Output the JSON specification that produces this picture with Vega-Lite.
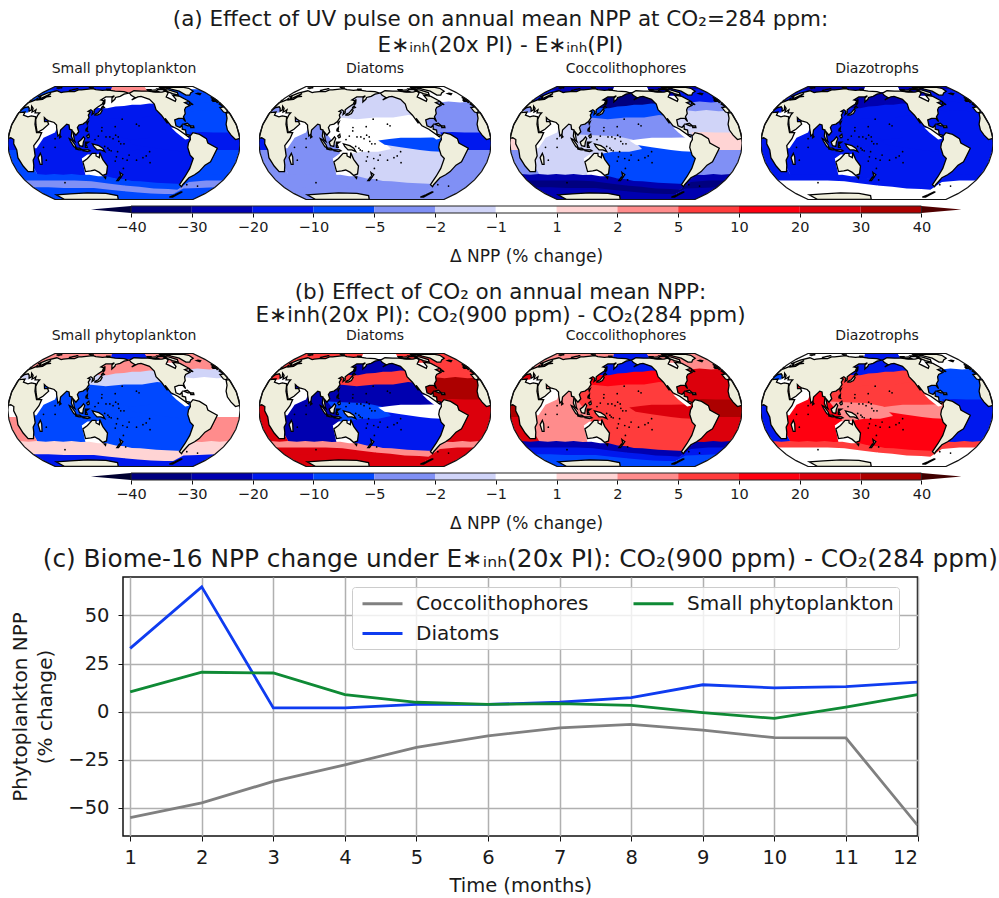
{"$schema":"https://vega.github.io/schema/vega-lite/v6.json","background":"white","padding":{"left":8,"top":8,"right":0,"bottom":0},"spacing":14,
"config":{"font":"DejaVu Sans","view":{"stroke":null},"title":{"font":"DejaVu Sans","color":"#1a1a1a","fontWeight":"normal"}},
"datasets":{
"cbar":[{"i0":0,"i1":1,"v":-35},{"i0":1,"i1":2,"v":-25},{"i0":2,"i1":3,"v":-15},{"i0":3,"i1":4,"v":-7},{"i0":4,"i1":5,"v":-3.5},{"i0":5,"i1":6,"v":-1.5},{"i0":6,"i1":7,"v":0},{"i0":7,"i1":8,"v":1.5},{"i0":8,"i1":9,"v":3},{"i0":9,"i1":10,"v":7},{"i0":10,"i1":11,"v":15},{"i0":11,"i1":12,"v":25},{"i0":12,"i1":13,"v":35}],
"tipL":[{"x":-0.66,"lo":0.5,"hi":0.5,"v":-50},{"x":0,"lo":0,"hi":1,"v":-50}],
"tipR":[{"x":13,"lo":0,"hi":1,"v":50},{"x":13.66,"lo":0.5,"hi":0.5,"v":50}],
"frame":[{"i0":0,"i1":13}],
"regions":[
{"id":"ARC_W","a1":-15,"a2":0,"a3":-25,"a4":-25,"b1":3,"b2":7,"b3":3,"b4":0,"geo":{"type":"Polygon","coordinates":[[[0,89.9],[50,89.9],[100,89.9],[150,89.9],[150,61],[120,61],[90,61],[60,61],[30,61],[0,61],[0,89.9]]]}},
{"id":"ARC_C","a1":3,"a2":0,"a3":0,"a4":0,"b1":-15,"b2":0,"b3":-15,"b4":-15,"geo":{"type":"Polygon","coordinates":[[[149,89.9],[190,89.9],[235,89.9],[235,61],[200,61],[170,61],[149,61],[149,89.9]]]}},
{"id":"ARC_E","a1":0,"a2":0,"a3":-25,"a4":-25,"b1":3,"b2":7,"b3":3,"b4":0,"geo":{"type":"Polygon","coordinates":[[[234,89.9],[275,89.9],[320,89.9],[360,89.9],[360,61],[330,61],[300,61],[265,61],[234,61],[234,89.9]]]}},
{"id":"NP_SUB","a1":0,"a2":-1.5,"a3":-35,"a4":-25,"b1":3,"b2":-25,"b3":-15,"b4":-15,"geo":{"type":"Polygon","coordinates":[[[115,68],[150,68],[180,68],[210,68],[245,68],[245,46],[210,45],[180,43],[150,40],[115,38],[115,68]]]}},
{"id":"NP_MID","a1":-15,"a2":-1.5,"a3":-7,"a4":-15,"b1":-1.5,"b2":7,"b3":15,"b4":7,"geo":{"type":"Polygon","coordinates":[[[115,40],[150,42],[180,45],[210,47],[245,48],[245,28],[210,28],[180,28],[150,26],[115,25],[115,40]]]}},
{"id":"NP_ST","a1":-15,"a2":0,"a3":-3.5,"a4":-15,"b1":-7,"b2":-25,"b3":7,"b4":7,"geo":{"type":"Polygon","coordinates":[[[100,27],[150,28],[180,30],[210,30],[262,31],[285,14],[285,2],[240,2],[195,2],[165,2],[125,2],[100,2],[100,27]]]}},
{"id":"SP_ST","a1":-15,"a2":-1.5,"a3":-7,"a4":-15,"b1":-7,"b2":-15,"b3":7,"b4":15,"geo":{"type":"Polygon","coordinates":[[[140,3],[170,3],[200,3],[240,3],[290,3],[295,-30],[295,-54],[250,-54],[200,-50],[170,-44],[145,-42],[140,3]]]}},
{"id":"EQ_W","a1":-15,"a2":0,"a3":-1.5,"a4":-15,"b1":-7,"b2":-7,"b3":7,"b4":3,"geo":{"type":"Polygon","coordinates":[[[100,10],[130,9],[160,8],[190,4],[205,-7],[185,-10],[160,-10],[130,-14],[100,-10],[100,10]]]}},
{"id":"EQ_E","a1":-15,"a2":-7,"a3":0,"a4":-15,"b1":-7,"b2":0,"b3":25,"b4":3,"geo":{"type":"Polygon","coordinates":[[[185,3],[220,6],[250,6],[285,6],[285,-10],[250,-8],[220,-5],[195,-2],[185,3]]]}},
{"id":"IND","a1":-15,"a2":-3.5,"a3":-1.5,"a4":-15,"b1":-7,"b2":-25,"b3":3,"b4":15,"geo":{"type":"Polygon","coordinates":[[[30,30],[60,30],[100,28],[105,10],[125,-8],[125,-12],[113,-18],[113,-40],[80,-40],[50,-40],[30,-40],[30,30]]]}},
{"id":"ARAB","a1":0,"a2":0,"a3":0,"a4":0,"b1":0,"b2":0,"b3":0,"b4":0,"geo":{"type":"Polygon","coordinates":[[[42,14],[55,26],[75,25],[72,12],[55,6],[44,-6],[38,-6],[42,14]]]}},
{"id":"CAM","a1":0,"a2":0,"a3":0,"a4":0,"b1":0,"b2":0,"b3":0,"b4":0,"geo":{"type":"Polygon","coordinates":[[[255,18],[262,17],[278,9],[281,5],[275,4],[262,12],[255,18]]]}},
{"id":"NA_SUB","a1":-7,"a2":0,"a3":-15,"a4":-15,"b1":3,"b2":7,"b3":3,"b4":0,"geo":{"type":"Polygon","coordinates":[[[285,75],[320,75],[360,75],[385,70],[385,48],[340,48],[300,48],[285,48],[285,75]]]}},
{"id":"NA_MID","a1":-7,"a2":-3.5,"a3":-3.5,"a4":-15,"b1":-1.5,"b2":7,"b3":25,"b4":-7,"geo":{"type":"Polygon","coordinates":[[[270,50],[300,50],[340,50],[375,50],[375,36],[340,36],[300,36],[270,36],[270,50]]]}},
{"id":"NA_ST","a1":-7,"a2":-3.5,"a3":-1.5,"a4":-15,"b1":0,"b2":35,"b3":25,"b4":-7,"geo":{"type":"Polygon","coordinates":[[[262,38],[300,38],[340,38],[370,38],[370,10],[340,10],[300,8],[278,10],[262,18],[262,38]]]}},
{"id":"AT_EQ","a1":-15,"a2":-15,"a3":1.5,"a4":-15,"b1":0,"b2":25,"b3":35,"b4":-15,"geo":{"type":"Polygon","coordinates":[[[282,12],[320,12],[350,12],[372,12],[372,-10],[350,-10],[320,-10],[300,-10],[282,12]]]}},
{"id":"SA","a1":-7,"a2":-3.5,"a3":-3.5,"a4":-15,"b1":3,"b2":25,"b3":25,"b4":-15,"geo":{"type":"Polygon","coordinates":[[[295,-8],[320,-8],[350,-8],[375,-8],[390,-25],[390,-42],[350,-42],[320,-42],[298,-42],[295,-8]]]}},
{"id":"S1_W","a1":-7,"a2":-3.5,"a3":-25,"a4":-15,"b1":1.5,"b2":3,"b3":-25,"b4":7,"geo":{"type":"Polygon","coordinates":[[[0,-37],[30,-37],[60,-37],[90,-37],[120,-38],[150,-40],[181,-44],[181,-55],[150,-52],[120,-49],[90,-48],[60,-48],[30,-48],[0,-48],[0,-37]]]}},
{"id":"S1_E","a1":-7,"a2":-3.5,"a3":-25,"a4":-15,"b1":1.5,"b2":3,"b3":-25,"b4":7,"geo":{"type":"Polygon","coordinates":[[[180,-44],[210,-47],[240,-49],[270,-50],[290,-51],[300,-38],[330,-37],[360,-37],[360,-48],[330,-48],[300,-50],[290,-62],[270,-61],[240,-60],[210,-57],[180,-55],[180,-44]]]}},
{"id":"S2_W","a1":-3.5,"a2":-3.5,"a3":-35,"a4":0,"b1":1.5,"b2":25,"b3":-15,"b4":0,"geo":{"type":"Polygon","coordinates":[[[0,-46],[30,-46],[60,-46],[90,-46],[120,-47],[150,-50],[181,-53],[181,-65],[150,-62],[120,-59],[90,-59],[60,-59],[30,-58],[0,-58],[0,-46]]]}},
{"id":"S2_E","a1":-3.5,"a2":-3.5,"a3":-35,"a4":0,"b1":1.5,"b2":25,"b3":-15,"b4":0,"geo":{"type":"Polygon","coordinates":[[[180,-53],[210,-55],[240,-58],[270,-59],[290,-60],[300,-48],[330,-46],[360,-46],[360,-58],[330,-59],[300,-60],[290,-70],[270,-70],[240,-69],[210,-67],[180,-65],[180,-53]]]}},
{"id":"S3_W","a1":-7,"a2":-3.5,"a3":-25,"a4":0,"b1":-15,"b2":25,"b3":-7,"b4":0,"geo":{"type":"Polygon","coordinates":[[[0,-56],[30,-56],[60,-57],[90,-57],[120,-57],[150,-60],[181,-63],[181,-89.9],[120,-89.9],[60,-89.9],[0,-89.9],[0,-56]]]}},
{"id":"S3_E","a1":-7,"a2":-3.5,"a3":-25,"a4":0,"b1":-15,"b2":25,"b3":-7,"b4":0,"geo":{"type":"Polygon","coordinates":[[[180,-63],[210,-65],[240,-67],[270,-68],[290,-68],[300,-58],[330,-57],[360,-56],[360,-89.9],[300,-89.9],[240,-89.9],[180,-89.9],[180,-63]]]}}
],
"land":[
{"n":"Eurasia","geo":{"type":"Polygon","coordinates":[[[25,71],[41,67],[44,68],[54,69],[68,69],[73,73],[80,73],[104,77],[113,74],[130,72],[140,73],[160,70],[180,69],[190,66],[180,64],[172,60],[163,58],[162,55],[157,51],[156,57],[160,61],[155,59],[143,59],[135,54],[141,53],[140,48],[132,43],[128,40],[129,36],[126,34],[126,38],[122,40],[118,38],[122,37],[120,33],[122,30],[119,25],[114,22],[108,21],[106,18],[109,13],[105,9],[100,13],[103,3],[104,1.5],[101,3],[98,8],[98,15],[94,16],[92,21],[88,22],[80,15],[80,10],[77,8],[73,18],[72,21],[67,24],[62,25],[57,26],[52,28],[48,30],[51,25],[56,25],[59,22],[52,16],[44,12],[39,21],[35,28],[35,33],[36,36],[28,36],[26,40],[24,38],[22,37],[19,42],[13,45],[18,40],[16,38],[12,42],[8,44],[3,43],[0,39],[-5,36],[-9,37],[-9,43],[-1,44],[-4,48],[3,51],[8,54],[8,57],[11,54],[20,55],[22,59],[30,60],[22,60],[22,65],[18,60],[13,55],[10,59],[5,59],[12,66],[25,71]]]}},
{"n":"Africa","geo":{"type":"Polygon","coordinates":[[[-6,35.5],[10,37],[11,33],[20,31],[25,32],[33,31],[37,22],[43,12],[51,12],[48,5],[40,-3],[40,-15],[35,-20],[33,-26],[27,-34],[18,-34],[15,-27],[12,-17],[13,-8],[9,-1],[9,4],[4,6],[-7,4],[-13,9],[-17,15],[-16,22],[-10,29],[-6,35.5]]]}},
{"n":"North America","geo":{"type":"Polygon","coordinates":[[[-168,66],[-157,71],[-140,70],[-125,70],[-110,68],[-95,68],[-85,70],[-82,67],[-94,59],[-82,52],[-78,55],[-78,62],[-65,60],[-56,52],[-66,50],[-60,46],[-70,43],[-74,40],[-76,35],[-81,31],[-80,25],[-83,29],[-90,29],[-97,27],[-97,20],[-91,18],[-87,21],[-88,16],[-83,15],[-83,10],[-78,9],[-80,7],[-85,10],[-95,16],[-105,20],[-112,29],[-110,23],[-117,33],[-124,40],[-124,48],[-130,55],[-145,60],[-152,59],[-165,54],[-158,58],[-165,62],[-168,66]]]}},
{"n":"South America","geo":{"type":"Polygon","coordinates":[[[-77,8],[-72,12],[-62,10],[-52,5],[-50,0],[-35,-6],[-39,-15],[-41,-22],[-48,-26],[-53,-34],[-58,-38],[-65,-42],[-68,-52],[-67,-55],[-74,-52],[-73,-40],[-71,-30],[-70,-18],[-76,-14],[-81,-5],[-80,0],[-77,4],[-77,8]]]}},
{"n":"Australia","geo":{"type":"Polygon","coordinates":[[[114,-22],[122,-18],[130,-12],[136,-12],[136,-15],[141,-17],[142,-11],[146,-19],[153,-27],[150,-37],[143,-39],[138,-35],[131,-32],[124,-33],[115,-34],[114,-22]]]}},
{"n":"Greenland","geo":{"type":"Polygon","coordinates":[[[-70,77],[-60,82],[-30,83],[-20,78],[-22,70],[-42,62],[-50,62],[-54,70],[-70,77]]]}},
{"n":"East Antarctica","geo":{"type":"Polygon","coordinates":[[[25,-70],[60,-68],[100,-66],[140,-67],[165,-72],[165,-89],[100,-89],[25,-89],[25,-70]]]}},
{"n":"Antarctic Peninsula","geo":{"type":"Polygon","coordinates":[[[296,-70],[302,-64],[305,-64],[301,-70],[298,-76],[290,-76],[296,-70]]]}},
{"n":"Madagascar","geo":{"type":"Polygon","coordinates":[[[44,-17],[49,-12],[50,-16],[47,-25],[44,-25],[44,-17]]]}},
{"n":"Honshu","geo":{"type":"Polygon","coordinates":[[[131,34],[136,36],[140,41],[142,39],[140,35],[135,33],[131,33],[131,34]]]}},
{"n":"Hokkaido","geo":{"type":"Polygon","coordinates":[[[140,43],[142,45],[145,43],[141,42],[140,43]]]}},
{"n":"Sakhalin","geo":{"type":"Polygon","coordinates":[[[142,54],[143,54],[144,49],[142,46],[142,54]]]}},
{"n":"Taiwan","geo":{"type":"Polygon","coordinates":[[[120,24],[122,25],[121,22],[120,24]]]}},
{"n":"Luzon","geo":{"type":"Polygon","coordinates":[[[120,16],[122,18],[122,14],[124,13],[120,14],[120,16]]]}},
{"n":"Mindanao","geo":{"type":"Polygon","coordinates":[[[122,8],[125,10],[126,7],[124,6],[122,8]]]}},
{"n":"Borneo","geo":{"type":"Polygon","coordinates":[[[109,1],[114,4],[117,7],[119,5],[117,1],[116,-4],[111,-3],[109,1]]]}},
{"n":"Sumatra","geo":{"type":"Polygon","coordinates":[[[95,5],[98,4],[104,-2],[106,-6],[102,-4],[97,2],[95,5]]]}},
{"n":"Java","geo":{"type":"Polygon","coordinates":[[[105,-6],[111,-6],[115,-8],[110,-8],[105,-7],[105,-6]]]}},
{"n":"Sulawesi","geo":{"type":"Polygon","coordinates":[[[120,1],[125,1],[121,-1],[123,-5],[120,-5],[120,1]]]}},
{"n":"New Guinea","geo":{"type":"Polygon","coordinates":[[[131,-1],[141,-3],[147,-6],[150,-10],[144,-8],[138,-8],[133,-4],[131,-1]]]}},
{"n":"Timor","geo":{"type":"Polygon","coordinates":[[[116,-8],[125,-8],[127,-9],[123,-10],[116,-9],[116,-8]]]}},
{"n":"Tasmania","geo":{"type":"Polygon","coordinates":[[[145,-41],[148,-41],[147,-43],[145,-41]]]}},
{"n":"NZ North","geo":{"type":"Polygon","coordinates":[[[173,-35],[178,-38],[175,-41],[174,-39],[173,-35]]]}},
{"n":"NZ South","geo":{"type":"Polygon","coordinates":[[[172,-41],[174,-42],[170,-46],[167,-46],[172,-41]]]}},
{"n":"Sri Lanka","geo":{"type":"Polygon","coordinates":[[[80,9],[82,7],[80,6],[80,9]]]}},
{"n":"Great Britain","geo":{"type":"Polygon","coordinates":[[[-5,58],[-2,57],[1,52],[-5,50],[-3,54],[-5,58]]]}},
{"n":"Ireland","geo":{"type":"Polygon","coordinates":[[[-9,54],[-6,55],[-6,52],[-10,52],[-9,54]]]}},
{"n":"Iceland","geo":{"type":"Polygon","coordinates":[[[-23,65],[-18,66],[-14,65],[-19,63],[-23,65]]]}},
{"n":"Cuba","geo":{"type":"Polygon","coordinates":[[[-84,22],[-78,23],[-74,20],[-78,20],[-84,22]]]}},
{"n":"Hispaniola","geo":{"type":"Polygon","coordinates":[[[-74,20],[-69,20],[-69,18],[-74,18],[-74,20]]]}},
{"n":"Newfoundland","geo":{"type":"Polygon","coordinates":[[[-59,48],[-56,51],[-53,47],[-59,48]]]}},
{"n":"Baffin","geo":{"type":"Polygon","coordinates":[[[-88,73],[-75,73],[-62,67],[-66,62],[-75,65],[-88,73]]]}},
{"n":"Victoria","geo":{"type":"Polygon","coordinates":[[[-118,72],[-105,73],[-102,69],[-115,69],[-118,72]]]}},
{"n":"Banks","geo":{"type":"Polygon","coordinates":[[[-125,74],[-116,74],[-120,71],[-125,72],[-125,74]]]}},
{"n":"Ellesmere","geo":{"type":"Polygon","coordinates":[[[-90,80],[-70,83],[-62,82],[-78,76],[-90,76],[-90,80]]]}},
{"n":"Devon","geo":{"type":"Polygon","coordinates":[[[-100,76],[-82,76],[-80,74],[-100,74],[-100,76]]]}},
{"n":"Svalbard","geo":{"type":"Polygon","coordinates":[[[12,79],[25,80],[20,77],[12,79]]]}},
{"n":"Novaya Zemlya","geo":{"type":"Polygon","coordinates":[[[53,72],[68,77],[58,74],[55,71],[53,72]]]}},
{"n":"Severnaya","geo":{"type":"Polygon","coordinates":[[[95,80],[105,79],[98,78],[95,80]]]}},
{"n":"New Siberian","geo":{"type":"Polygon","coordinates":[[[137,75],[148,75],[142,73],[137,75]]]}}
],
"isles":[{"lon":158,"lat":7},{"lon":163,"lat":5},{"lon":171,"lat":7},{"lon":172,"lat":2},{"lon":167,"lat":9},{"lon":145,"lat":14},{"lon":145,"lat":18},{"lon":166,"lat":19},{"lon":177,"lat":28},{"lon":188,"lat":-14},{"lon":185,"lat":-20},{"lon":178,"lat":-18},{"lon":166,"lat":-21},{"lon":168,"lat":-16},{"lon":160,"lat":-9},{"lon":157,"lat":-8},{"lon":210,"lat":-17},{"lon":215,"lat":-15},{"lon":220,"lat":-10},{"lon":222,"lat":-23},{"lon":200,"lat":-20},{"lon":204,"lat":20},{"lon":200,"lat":22},{"lon":175,"lat":-1},{"lon":180,"lat":-1},{"lon":170,"lat":-10},{"lon":73,"lat":-5},{"lon":56,"lat":-20},{"lon":55,"lat":-5},{"lon":73,"lat":5},{"lon":152,"lat":7},{"lon":140,"lat":8},{"lon":135,"lat":4},{"lon":150,"lat":-4},{"lon":155,"lat":-6},{"lon":179,"lat":-30},{"lon":183,"lat":-45},{"lon":110,"lat":-7},{"lon":70,"lat":-49},{"lon":-60,"lat":-52},{"lon":-37,"lat":-54}],
"npp":[
{"m":1,"s":"Coccolithophores","v":-55},{"m":2,"s":"Coccolithophores","v":-47.4},{"m":3,"s":"Coccolithophores","v":-36.2},{"m":4,"s":"Coccolithophores","v":-27.6},{"m":5,"s":"Coccolithophores","v":-18.5},{"m":6,"s":"Coccolithophores","v":-12.6},{"m":7,"s":"Coccolithophores","v":-8.4},{"m":8,"s":"Coccolithophores","v":-6.6},{"m":9,"s":"Coccolithophores","v":-9.6},{"m":10,"s":"Coccolithophores","v":-13.5},{"m":11,"s":"Coccolithophores","v":-13.6},{"m":12,"s":"Coccolithophores","v":-59},
{"m":1,"s":"Diatoms","v":32.9},{"m":2,"s":"Diatoms","v":64.9},{"m":3,"s":"Diatoms","v":2},{"m":4,"s":"Diatoms","v":2},{"m":5,"s":"Diatoms","v":3.8},{"m":6,"s":"Diatoms","v":3.8},{"m":7,"s":"Diatoms","v":4.9},{"m":8,"s":"Diatoms","v":7.3},{"m":9,"s":"Diatoms","v":14},{"m":10,"s":"Diatoms","v":12.4},{"m":11,"s":"Diatoms","v":13},{"m":12,"s":"Diatoms","v":15.4},
{"m":1,"s":"Small phytoplankton","v":10.3},{"m":2,"s":"Small phytoplankton","v":20.5},{"m":3,"s":"Small phytoplankton","v":20.1},{"m":4,"s":"Small phytoplankton","v":8.9},{"m":5,"s":"Small phytoplankton","v":4.9},{"m":6,"s":"Small phytoplankton","v":3.8},{"m":7,"s":"Small phytoplankton","v":4.2},{"m":8,"s":"Small phytoplankton","v":3.3},{"m":9,"s":"Small phytoplankton","v":-0.5},{"m":10,"s":"Small phytoplankton","v":-3.5},{"m":11,"s":"Small phytoplankton","v":2.4},{"m":12,"s":"Small phytoplankton","v":8.9}]
},
"vconcat":[
{"spacing":16,"vconcat":[
{"spacing":5,"title":{"text":["(a)  Effect of UV pulse on annual mean NPP at CO₂=284 ppm:","E∗ᵢₙₕ(20x PI) -  E∗ᵢₙₕ(PI)"],"fontSize":21.5,"offset":6,"anchor":"middle","lineHeight":26},"vconcat":[
{"bounds":"flush","spacing":19,"hconcat":[
{"width":232,"height":114,"title":{"text":"Small phytoplankton","fontSize":14,"offset":10},"projection":{"type":"equalEarth","rotate":[180,0],"scale":42.9,"translate":[116,57]},"layer":[{"data":{"sphere":true},"mark":{"type":"geoshape","fill":"white","stroke":null}},{"data":{"name":"regions"},"mark":{"type":"geoshape","stroke":null},"encoding":{"shape":{"field":"geo","type":"geojson"},"color":{"field":"a1","type":"quantitative","legend":null,"scale":{"type":"threshold","domain":[-40,-30,-20,-10,-5,-2,-1,1,2,5,10,20,30,40],"range":["#000050","#00007f","#0000b0","#0018ee","#0048ff","#8090f5","#d0d4f8","#ffffff","#ffd4d4","#ff8c8c","#ff3c3c","#ff0010","#dc000c","#ac0000","#600000"]}}}},{"data":{"name":"land"},"mark":{"type":"geoshape","fill":"#efeedc","stroke":"black","strokeWidth":1.3},"encoding":{"shape":{"field":"geo","type":"geojson"}}},{"data":{"name":"isles"},"mark":{"type":"circle","size":3,"color":"black","opacity":1},"encoding":{"longitude":{"field":"lon","type":"quantitative"},"latitude":{"field":"lat","type":"quantitative"}}},{"data":{"sphere":true},"mark":{"type":"geoshape","fill":null,"stroke":"#111","strokeWidth":1.2}}]},
{"width":232,"height":114,"title":{"text":"Diatoms","fontSize":14,"offset":10},"projection":{"type":"equalEarth","rotate":[180,0],"scale":42.9,"translate":[116,57]},"layer":[{"data":{"sphere":true},"mark":{"type":"geoshape","fill":"white","stroke":null}},{"data":{"name":"regions"},"mark":{"type":"geoshape","stroke":null},"encoding":{"shape":{"field":"geo","type":"geojson"},"color":{"field":"a2","type":"quantitative","legend":null,"scale":{"type":"threshold","domain":[-40,-30,-20,-10,-5,-2,-1,1,2,5,10,20,30,40],"range":["#000050","#00007f","#0000b0","#0018ee","#0048ff","#8090f5","#d0d4f8","#ffffff","#ffd4d4","#ff8c8c","#ff3c3c","#ff0010","#dc000c","#ac0000","#600000"]}}}},{"data":{"name":"land"},"mark":{"type":"geoshape","fill":"#efeedc","stroke":"black","strokeWidth":1.3},"encoding":{"shape":{"field":"geo","type":"geojson"}}},{"data":{"name":"isles"},"mark":{"type":"circle","size":3,"color":"black","opacity":1},"encoding":{"longitude":{"field":"lon","type":"quantitative"},"latitude":{"field":"lat","type":"quantitative"}}},{"data":{"sphere":true},"mark":{"type":"geoshape","fill":null,"stroke":"#111","strokeWidth":1.2}}]},
{"width":232,"height":114,"title":{"text":"Coccolithophores","fontSize":14,"offset":10},"projection":{"type":"equalEarth","rotate":[180,0],"scale":42.9,"translate":[116,57]},"layer":[{"data":{"sphere":true},"mark":{"type":"geoshape","fill":"white","stroke":null}},{"data":{"name":"regions"},"mark":{"type":"geoshape","stroke":null},"encoding":{"shape":{"field":"geo","type":"geojson"},"color":{"field":"a3","type":"quantitative","legend":null,"scale":{"type":"threshold","domain":[-40,-30,-20,-10,-5,-2,-1,1,2,5,10,20,30,40],"range":["#000050","#00007f","#0000b0","#0018ee","#0048ff","#8090f5","#d0d4f8","#ffffff","#ffd4d4","#ff8c8c","#ff3c3c","#ff0010","#dc000c","#ac0000","#600000"]}}}},{"data":{"name":"land"},"mark":{"type":"geoshape","fill":"#efeedc","stroke":"black","strokeWidth":1.3},"encoding":{"shape":{"field":"geo","type":"geojson"}}},{"data":{"name":"isles"},"mark":{"type":"circle","size":3,"color":"black","opacity":1},"encoding":{"longitude":{"field":"lon","type":"quantitative"},"latitude":{"field":"lat","type":"quantitative"}}},{"data":{"sphere":true},"mark":{"type":"geoshape","fill":null,"stroke":"#111","strokeWidth":1.2}}]},
{"width":232,"height":114,"title":{"text":"Diazotrophs","fontSize":14,"offset":10},"projection":{"type":"equalEarth","rotate":[180,0],"scale":42.9,"translate":[116,57]},"layer":[{"data":{"sphere":true},"mark":{"type":"geoshape","fill":"white","stroke":null}},{"data":{"name":"regions"},"mark":{"type":"geoshape","stroke":null},"encoding":{"shape":{"field":"geo","type":"geojson"},"color":{"field":"a4","type":"quantitative","legend":null,"scale":{"type":"threshold","domain":[-40,-30,-20,-10,-5,-2,-1,1,2,5,10,20,30,40],"range":["#000050","#00007f","#0000b0","#0018ee","#0048ff","#8090f5","#d0d4f8","#ffffff","#ffd4d4","#ff8c8c","#ff3c3c","#ff0010","#dc000c","#ac0000","#600000"]}}}},{"data":{"name":"land"},"mark":{"type":"geoshape","fill":"#efeedc","stroke":"black","strokeWidth":1.3},"encoding":{"shape":{"field":"geo","type":"geojson"}}},{"data":{"name":"isles"},"mark":{"type":"circle","size":3,"color":"black","opacity":1},"encoding":{"longitude":{"field":"lon","type":"quantitative"},"latitude":{"field":"lat","type":"quantitative"}}},{"data":{"sphere":true},"mark":{"type":"geoshape","fill":null,"stroke":"#111","strokeWidth":1.2}}]}
]},
{"width":985,"height":7,"layer":[
{"data":{"name":"cbar"},"mark":{"type":"rect"},"encoding":{"x":{"field":"i0","type":"quantitative","scale":{"domain":[-2.023,14.178],"nice":false,"zero":false},"axis":{"values":[0,1,2,3,4,5,6,7,8,9,10,11,12,13],"labelExpr":"['−40','−30','−20','−10','−5','−2','−1','1','2','5','10','20','30','40'][datum.value]","grid":false,"domain":false,"tickColor":"#111","tickSize":4,"labelFontSize":14.5,"labelColor":"#1a1a1a","title":"Δ NPP (% change)","titleFontSize":17,"titleFontWeight":"normal","titleColor":"#1a1a1a","titleX":518,"titlePadding":15,"labelPadding":3}},"x2":{"field":"i1"},"color":{"field":"v","type":"quantitative","legend":null,"scale":{"type":"threshold","domain":[-40,-30,-20,-10,-5,-2,-1,1,2,5,10,20,30,40],"range":["#000050","#00007f","#0000b0","#0018ee","#0048ff","#8090f5","#d0d4f8","#ffffff","#ffd4d4","#ff8c8c","#ff3c3c","#ff0010","#dc000c","#ac0000","#600000"]}}}},
{"data":{"name":"tipL"},"mark":{"type":"area","color":"#000040"},"encoding":{"x":{"field":"x","type":"quantitative"},"y":{"field":"lo","type":"quantitative","axis":null,"scale":{"domain":[0,1]}},"y2":{"field":"hi"}}},
{"data":{"name":"tipR"},"mark":{"type":"area","color":"#500000"},"encoding":{"x":{"field":"x","type":"quantitative"},"y":{"field":"lo","type":"quantitative","axis":null,"scale":{"domain":[0,1]}},"y2":{"field":"hi"}}},
{"data":{"name":"frame"},"mark":{"type":"rect","fill":null,"stroke":"#222","strokeWidth":1},"encoding":{"x":{"field":"i0","type":"quantitative"},"x2":{"field":"i1"}}}
]}
]},
{"spacing":5,"title":{"text":["(b)  Effect of CO₂ on annual mean NPP:","E∗inh(20x PI): CO₂(900 ppm) - CO₂(284 ppm)"],"fontSize":21.5,"offset":3,"anchor":"middle","lineHeight":23},"vconcat":[
{"bounds":"flush","spacing":19,"hconcat":[
{"width":232,"height":114,"title":{"text":"Small phytoplankton","fontSize":14,"offset":10},"projection":{"type":"equalEarth","rotate":[180,0],"scale":42.9,"translate":[116,57]},"layer":[{"data":{"sphere":true},"mark":{"type":"geoshape","fill":"white","stroke":null}},{"data":{"name":"regions"},"mark":{"type":"geoshape","stroke":null},"encoding":{"shape":{"field":"geo","type":"geojson"},"color":{"field":"b1","type":"quantitative","legend":null,"scale":{"type":"threshold","domain":[-40,-30,-20,-10,-5,-2,-1,1,2,5,10,20,30,40],"range":["#000030","#000060","#000a90","#0018c8","#0030f8","#6078ee","#c0c8f5","#ffffff","#ffcccc","#ff7070","#ff1a2a","#e80010","#b80008","#880000","#400000"]}}}},{"data":{"name":"land"},"mark":{"type":"geoshape","fill":"#efeedc","stroke":"black","strokeWidth":1.3},"encoding":{"shape":{"field":"geo","type":"geojson"}}},{"data":{"name":"isles"},"mark":{"type":"circle","size":3,"color":"black","opacity":1},"encoding":{"longitude":{"field":"lon","type":"quantitative"},"latitude":{"field":"lat","type":"quantitative"}}},{"data":{"sphere":true},"mark":{"type":"geoshape","fill":null,"stroke":"#111","strokeWidth":1.2}}]},
{"width":232,"height":114,"title":{"text":"Diatoms","fontSize":14,"offset":10},"projection":{"type":"equalEarth","rotate":[180,0],"scale":42.9,"translate":[116,57]},"layer":[{"data":{"sphere":true},"mark":{"type":"geoshape","fill":"white","stroke":null}},{"data":{"name":"regions"},"mark":{"type":"geoshape","stroke":null},"encoding":{"shape":{"field":"geo","type":"geojson"},"color":{"field":"b2","type":"quantitative","legend":null,"scale":{"type":"threshold","domain":[-40,-30,-20,-10,-5,-2,-1,1,2,5,10,20,30,40],"range":["#000030","#000060","#000a90","#0018c8","#0030f8","#6078ee","#c0c8f5","#ffffff","#ffcccc","#ff7070","#ff1a2a","#e80010","#b80008","#880000","#400000"]}}}},{"data":{"name":"land"},"mark":{"type":"geoshape","fill":"#efeedc","stroke":"black","strokeWidth":1.3},"encoding":{"shape":{"field":"geo","type":"geojson"}}},{"data":{"name":"isles"},"mark":{"type":"circle","size":3,"color":"black","opacity":1},"encoding":{"longitude":{"field":"lon","type":"quantitative"},"latitude":{"field":"lat","type":"quantitative"}}},{"data":{"sphere":true},"mark":{"type":"geoshape","fill":null,"stroke":"#111","strokeWidth":1.2}}]},
{"width":232,"height":114,"title":{"text":"Coccolithophores","fontSize":14,"offset":10},"projection":{"type":"equalEarth","rotate":[180,0],"scale":42.9,"translate":[116,57]},"layer":[{"data":{"sphere":true},"mark":{"type":"geoshape","fill":"white","stroke":null}},{"data":{"name":"regions"},"mark":{"type":"geoshape","stroke":null},"encoding":{"shape":{"field":"geo","type":"geojson"},"color":{"field":"b3","type":"quantitative","legend":null,"scale":{"type":"threshold","domain":[-40,-30,-20,-10,-5,-2,-1,1,2,5,10,20,30,40],"range":["#000030","#000060","#000a90","#0018c8","#0030f8","#6078ee","#c0c8f5","#ffffff","#ffcccc","#ff7070","#ff1a2a","#e80010","#b80008","#880000","#400000"]}}}},{"data":{"name":"land"},"mark":{"type":"geoshape","fill":"#efeedc","stroke":"black","strokeWidth":1.3},"encoding":{"shape":{"field":"geo","type":"geojson"}}},{"data":{"name":"isles"},"mark":{"type":"circle","size":3,"color":"black","opacity":1},"encoding":{"longitude":{"field":"lon","type":"quantitative"},"latitude":{"field":"lat","type":"quantitative"}}},{"data":{"sphere":true},"mark":{"type":"geoshape","fill":null,"stroke":"#111","strokeWidth":1.2}}]},
{"width":232,"height":114,"title":{"text":"Diazotrophs","fontSize":14,"offset":10},"projection":{"type":"equalEarth","rotate":[180,0],"scale":42.9,"translate":[116,57]},"layer":[{"data":{"sphere":true},"mark":{"type":"geoshape","fill":"white","stroke":null}},{"data":{"name":"regions"},"mark":{"type":"geoshape","stroke":null},"encoding":{"shape":{"field":"geo","type":"geojson"},"color":{"field":"b4","type":"quantitative","legend":null,"scale":{"type":"threshold","domain":[-40,-30,-20,-10,-5,-2,-1,1,2,5,10,20,30,40],"range":["#000030","#000060","#000a90","#0018c8","#0030f8","#6078ee","#c0c8f5","#ffffff","#ffcccc","#ff7070","#ff1a2a","#e80010","#b80008","#880000","#400000"]}}}},{"data":{"name":"land"},"mark":{"type":"geoshape","fill":"#efeedc","stroke":"black","strokeWidth":1.3},"encoding":{"shape":{"field":"geo","type":"geojson"}}},{"data":{"name":"isles"},"mark":{"type":"circle","size":3,"color":"black","opacity":1},"encoding":{"longitude":{"field":"lon","type":"quantitative"},"latitude":{"field":"lat","type":"quantitative"}}},{"data":{"sphere":true},"mark":{"type":"geoshape","fill":null,"stroke":"#111","strokeWidth":1.2}}]}
]},
{"width":985,"height":7,"layer":[
{"data":{"name":"cbar"},"mark":{"type":"rect"},"encoding":{"x":{"field":"i0","type":"quantitative","scale":{"domain":[-2.023,14.178],"nice":false,"zero":false},"axis":{"values":[0,1,2,3,4,5,6,7,8,9,10,11,12,13],"labelExpr":"['−40','−30','−20','−10','−5','−2','−1','1','2','5','10','20','30','40'][datum.value]","grid":false,"domain":false,"tickColor":"#111","tickSize":4,"labelFontSize":14.5,"labelColor":"#1a1a1a","title":"Δ NPP (% change)","titleFontSize":17,"titleFontWeight":"normal","titleColor":"#1a1a1a","titleX":518,"titlePadding":15,"labelPadding":3}},"x2":{"field":"i1"},"color":{"field":"v","type":"quantitative","legend":null,"scale":{"type":"threshold","domain":[-40,-30,-20,-10,-5,-2,-1,1,2,5,10,20,30,40],"range":["#000030","#000060","#000a90","#0018c8","#0030f8","#6078ee","#c0c8f5","#ffffff","#ffcccc","#ff7070","#ff1a2a","#e80010","#b80008","#880000","#400000"]}}}},
{"data":{"name":"tipL"},"mark":{"type":"area","color":"#000030"},"encoding":{"x":{"field":"x","type":"quantitative"},"y":{"field":"lo","type":"quantitative","axis":null,"scale":{"domain":[0,1]}},"y2":{"field":"hi"}}},
{"data":{"name":"tipR"},"mark":{"type":"area","color":"#400000"},"encoding":{"x":{"field":"x","type":"quantitative"},"y":{"field":"lo","type":"quantitative","axis":null,"scale":{"domain":[0,1]}},"y2":{"field":"hi"}}},
{"data":{"name":"frame"},"mark":{"type":"rect","fill":null,"stroke":"#222","strokeWidth":1},"encoding":{"x":{"field":"i0","type":"quantitative"},"x2":{"field":"i1"}}}
]}
]}
]},
{"bounds":"flush","spacing":0,"hconcat":[
{"width":114.5,"height":259,"data":{"values":[{"a":1}]},"mark":{"type":"point","opacity":0},"encoding":{}},
{"width":794.5,"height":259,"view":{"stroke":"#111","strokeWidth":1.5},"title":{"text":"(c)  Biome-16 NPP change under E∗ᵢₙₕ(20x PI): CO₂(900 ppm) - CO₂(284 ppm)","fontSize":24.8,"offset":5,"anchor":"middle","limit":1200},"data":{"name":"npp"},"mark":{"type":"line","strokeWidth":2.8,"clip":true},"encoding":{"x":{"field":"m","type":"quantitative","scale":{"domain":[0.9,12],"nice":false,"zero":false},"axis":{"values":[1,2,3,4,5,6,7,8,9,10,11,12],"format":"d","title":"Time (months)","titleFontSize":19.5,"titleFontWeight":"normal","titleColor":"#1a1a1a","labelFontSize":19.5,"labelColor":"#1a1a1a","gridColor":"#b0b0b0","gridWidth":1.5,"domain":false,"tickColor":"#111","tickSize":5,"labelPadding":7,"titlePadding":10}},"y":{"field":"v","type":"quantitative","scale":{"domain":[-64.6,70],"nice":false,"zero":false},"axis":{"values":[-50,-25,0,25,50],"labelExpr":"replace(format(datum.value,'d'),'-','−')","title":["Phytoplankton NPP","(% change)"],"titleFontSize":20,"titleLineHeight":25,"titleFontWeight":"normal","titleColor":"#1a1a1a","labelFontSize":19.5,"labelColor":"#1a1a1a","gridColor":"#b0b0b0","gridWidth":1.5,"domain":false,"tickColor":"#111","tickSize":5,"labelPadding":9,"titlePadding":12}},"color":{"field":"s","type":"nominal","scale":{"domain":["Coccolithophores","Diatoms","Small phytoplankton"],"range":["#808080","#0f3cf0","#0f8a35"]},"legend":{"title":null,"orient":"none","legendX":344,"legendY":10,"columns":2,"direction":"vertical","symbolType":"M-2,0L2,0","symbolSize":400,"symbolOffset":14,"symbolStrokeWidth":2.8,"labelFontSize":20,"labelLimit":300,"labelColor":"#1a1a1a","fillColor":"#ffffffcc","strokeColor":"#cccccc","cornerRadius":3,"padding":5,"rowPadding":8,"columnPadding":38,"labelOffset":22}}}}
]}
]}
